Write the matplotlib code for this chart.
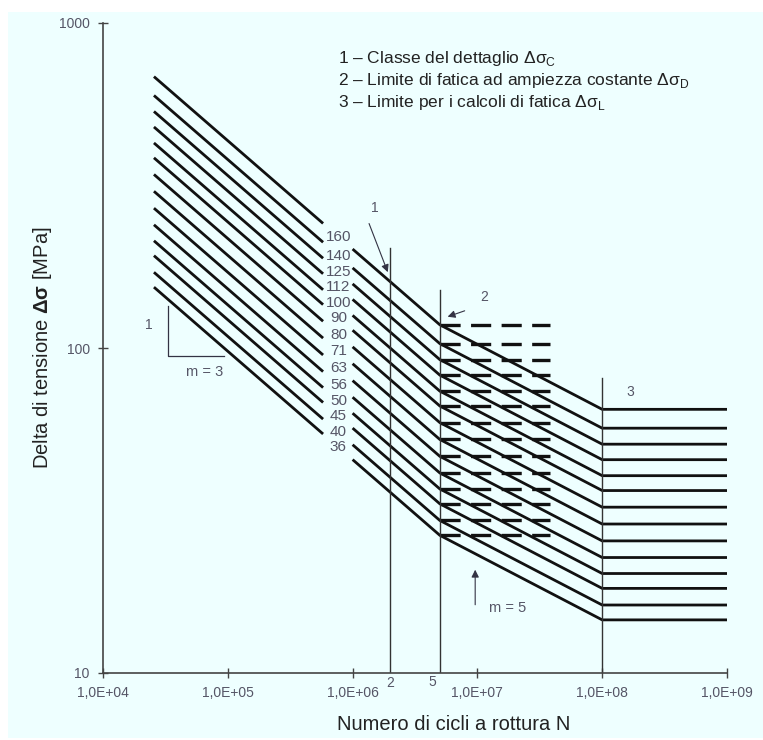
import numpy as np
import matplotlib
matplotlib.use('Agg')
from matplotlib import pyplot as plt
from matplotlib.patches import Rectangle
import matplotlib.transforms as mtransforms

plt.rcParams['font.family'] = ['Liberation Sans', 'DejaVu Sans']
plt.rcParams['mathtext.fontset'] = 'custom'
plt.rcParams['mathtext.rm'] = 'Liberation Sans'
plt.rcParams['mathtext.bf'] = 'Liberation Sans:bold'
plt.rcParams['lines.scale_dashes'] = False

# detail categories (delta sigma C at 2e6 cycles)
classes = [160, 140, 125, 112, 100, 90, 80, 71, 63, 56, 50, 45, 40, 36]
N_C = 2e6          # reference cycles
N_D = 5e6          # constant amplitude limit
N_L = 1e8          # cut-off limit
N_start = 2.56e4   # left end of curves
N_break = 5.8e5    # curves interrupted here for the labels
N_resume = 1e6     # ... and resumed here
N_end = 1e9
N_dash_end = 3.85e7
N_label = 7.7e5

xticks = [1e4, 1e5, 1e6, 1e7, 1e8, 1e9]
xticklabels = ['1,0E+04', '1,0E+05', '1,0E+06', '1,0E+07', '1,0E+08', '1,0E+09']
yticks = [10, 100, 1000]
yticklabels = ['10', '100', '1000']

bg = '#EEFFFF'
ink = '#111111'
grey = '#555566'

fig = plt.figure(figsize=(7.63, 7.40), dpi=100)
fig.patches.append(Rectangle((8/763, 2/740), 755/763, 726/740, transform=fig.transFigure,
                             facecolor=bg, edgecolor='none', zorder=-10))
ax = fig.add_axes([103/763, 67/740, 624/763, 650/740])
ax.set_facecolor(bg)
ax.patch.set_alpha(0)

for c in classes:
    s_D = c * (N_C / N_D) ** (1/3)
    s_L = s_D * (N_D / N_L) ** (1/5)
    # m = 3 part, left of the label gap
    n = np.array([N_start, N_break])
    ax.plot(n, c * (N_C / n) ** (1/3), color=ink, lw=2.0, solid_capstyle='butt')
    # right part: m = 3, m = 5, horizontal
    n2 = [N_resume, N_D, N_L, N_end]
    s2 = [c * (N_C / N_resume) ** (1/3), s_D, s_L, s_L]
    ax.plot(n2, s2, color=ink, lw=2.0, solid_capstyle='butt')
    # constant amplitude fatigue limit (dashed)
    ax.plot([N_D, N_dash_end], [s_D, s_D], color=ink, lw=2.4, dashes=(14.5, 7.5),
            dash_capstyle='butt')
    ax.text(N_label, c * (N_C / N_label) ** (1/3), str(c), ha='center', va='center',
            fontsize=11, color=grey,
            bbox=dict(facecolor=bg, edgecolor='none', pad=0.2))

# vertical reference lines
ax.plot([N_C, N_C], [10, 203], color='#333333', lw=1.0)
ax.plot([N_D, N_D], [10, 151], color='#333333', lw=1.0)
ax.plot([N_L, N_L], [10, 81], color='#333333', lw=1.0)

trans = mtransforms.blended_transform_factory(ax.transData, ax.transAxes)
ax.text(2e6, -0.016, '2', transform=trans, ha='center', va='center', fontsize=10, color=grey)
ax.text(4.37e6, -0.014, '5', transform=trans, ha='center', va='center', fontsize=10, color=grey)

arrow = dict(arrowstyle='-|>', color='#333344', lw=0.8, mutation_scale=11)
ax.annotate('', xy=(1.95e6, 168), xytext=(1.33e6, 246), arrowprops=arrow)
ax.text(1.5e6, 270, '1', ha='center', va='center', fontsize=10, color=grey)
ax.annotate('', xy=(5.5e6, 124), xytext=(8.3e6, 131), arrowprops=arrow)
ax.text(1.14e7, 143.5, '2', ha='center', va='center', fontsize=10, color=grey)
ax.text(1.67e8, 73.3, '3', ha='center', va='center', fontsize=10, color=grey)
ax.annotate('', xy=(9.6e6, 21.2), xytext=(9.6e6, 15.9), arrowprops=arrow)
ax.text(1.74e7, 15.85, 'm = 5', ha='center', va='center', fontsize=10.5, color=grey)

# slope triangle m = 3
ax.plot([3.31e4, 3.31e4, 9.3e4], [134.6, 94.4, 94.4], color='#333344', lw=0.9)
ax.text(2.33e4, 117.8, '1', ha='center', va='center', fontsize=10, color=grey)
ax.text(6.55e4, 84.4, 'm = 3', ha='center', va='center', fontsize=10.5, color=grey)

ax.set_xscale('log')
ax.set_yscale('log')
ax.set_xlim(1e4, 1e9)
ax.set_ylim(10, 1000)
ax.set_xticks(xticks)
ax.set_xticklabels(xticklabels)
ax.set_yticks(yticks)
ax.set_yticklabels(yticklabels)
ax.minorticks_off()
ax.tick_params(direction='inout', length=7, width=1.0, color='#444444',
               labelcolor=grey, labelsize=10, pad=6)
for side in ['top', 'right']:
    ax.spines[side].set_visible(False)
for side in ['left', 'bottom']:
    ax.spines[side].set_color('#444444')
    ax.spines[side].set_linewidth(1.2)

legend_lines = [r'1 – Classe del dettaglio Δσ$_{\mathrm{C}}$',
                r'2 – Limite di fatica ad ampiezza costante Δσ$_{\mathrm{D}}$',
                r'3 – Limite per i calcoli di fatica Δσ$_{\mathrm{L}}$']
for i, t in enumerate(legend_lines):
    fig.text(338/763, 1 - (58 + 22*i)/740, t, ha='left', va='center', fontsize=12.5,
             color='#222222')

fig.text(454/763, 1 - 725/740, 'Numero di cicli a rottura N', ha='center', va='center',
         fontsize=14.5, color='#222222')
fig.text(43/763, 1 - 348/740, r'Delta di tensione $\mathbf{Δσ}$ [MPa]',
         rotation=90, ha='center', va='center', fontsize=14.5, color='#222222')

fig.savefig('out.png', dpi=100, facecolor='white')
